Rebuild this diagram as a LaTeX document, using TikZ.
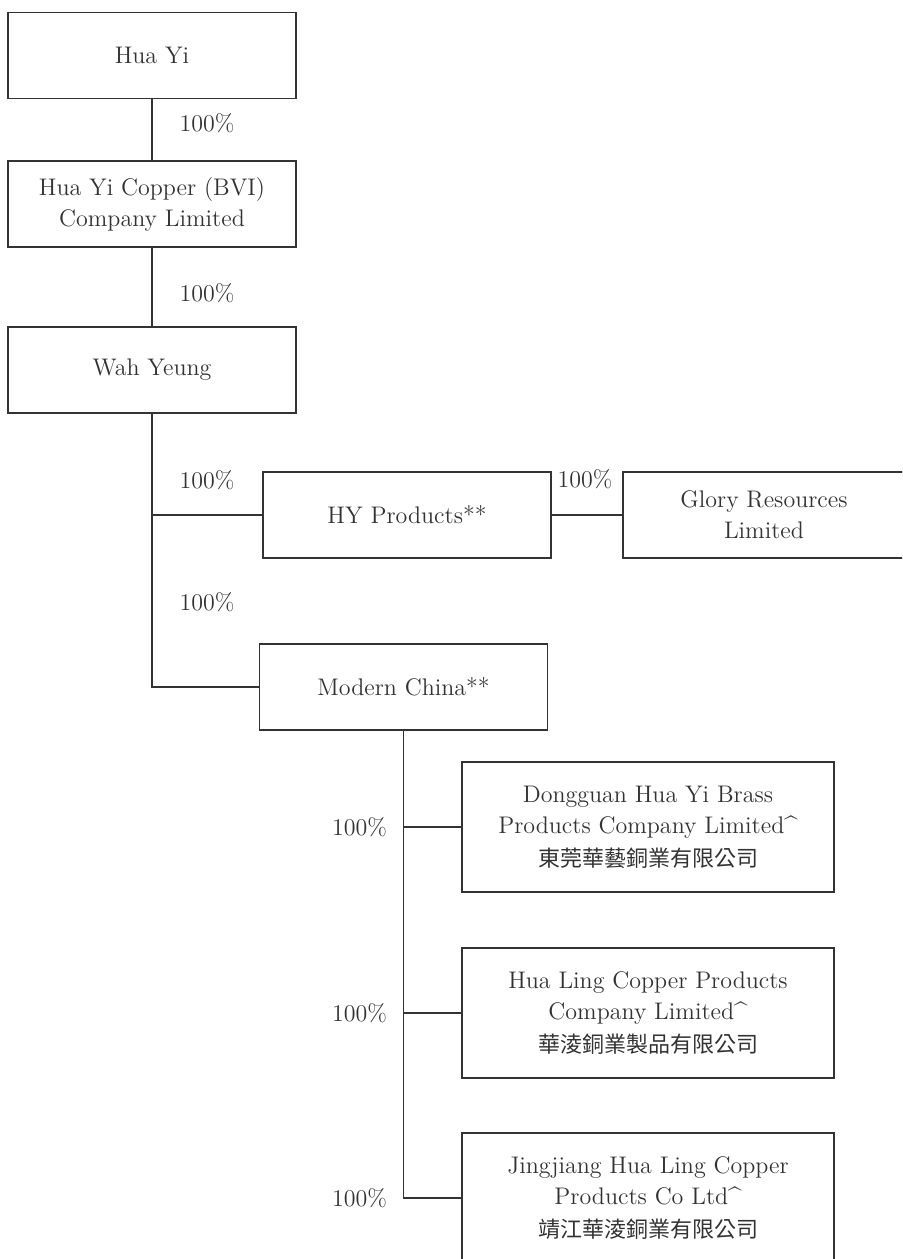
\documentclass[tikz,border=0pt]{standalone}
\usepackage{fontspec}
\newfontfamily\cjk{Noto Sans CJK TC}
\usetikzlibrary{positioning}
\definecolor{inkgray}{HTML}{333333}

\begin{document}
\begin{tikzpicture}[x=0.5pt,y=-0.5pt,
  entity/.style={draw=inkgray, line width=0.6pt, minimum width=144pt,
    minimum height=43pt, inner sep=0pt, align=center,
    font=\fontsize{12}{15.5}\selectfont, text=inkgray},
  wide/.style={entity, minimum width=186pt, minimum height=65pt},
  share/.style={font=\fontsize{12}{14}\selectfont, text=inkgray, inner sep=0pt},
  link/.style={draw=inkgray, line width=0.6pt}
]
\useasboundingbox (0,0) rectangle (902,1259);
\clip (0,0) rectangle (902,1259);
\fill[white] (0,0) rectangle (902,1259);

\node[entity] (huayi) at (152,55.5) {Hua Yi};
\node[entity] (bvi) at (152,204) {Hua Yi Copper (BVI)\\Company Limited};
\node[entity] (wahyeung) at (152,370) {Wah Yeung};
\node[entity] (hyprod) at (407,515) {HY Products**};
\node[entity, minimum width=141pt] (glory) at (764,515) {Glory Resources\\Limited};
\node[entity] (modern) at (403.5,687) {Modern China**};
\node[wide] (dongguan) at (648,827) {Dongguan Hua Yi Brass\\Products Company Limited\textasciicircum\\[1pt]{\cjk\fontsize{11}{14}\selectfont 東莞華藝銅業有限公司}};
\node[wide] (hualing) at (648,1013) {Hua Ling Copper Products\\Company Limited\textasciicircum\\[1pt]{\cjk\fontsize{11}{14}\selectfont 華淩銅業製品有限公司}};
\node[wide] (jingjiang) at (648,1198) {Jingjiang Hua Ling Copper\\Products Co Ltd\textasciicircum\\[1pt]{\cjk\fontsize{11}{14}\selectfont 靖江華淩銅業有限公司}};

% shareholdings
\node[share] (s1) at (207,123) {100\%};
\node[share] (s2) at (207,293) {100\%};
\node[share] (s3) at (207,480) {100\%};
\node[share] (s4) at (585,479) {100\%};
\node[share] (s5) at (207,602) {100\%};
\node[share] (s6) at (359.5,827) {100\%};
\node[share] (s7) at (359.5,1013) {100\%};
\node[share] (s8) at (359.5,1198) {100\%};

\draw[link] (huayi) -- (bvi);
\draw[link] (bvi) -- (wahyeung);
\draw[link] (wahyeung.south) |- (hyprod.west);
\draw[link] (wahyeung.south) |- (modern.west);
\draw[link] (hyprod) -- (glory);
\draw[link] (modern.south) |- (dongguan.west);
\draw[link] (modern.south) |- (hualing.west);
\draw[link] (modern.south) |- (jingjiang.west);
\end{tikzpicture}
\end{document}
